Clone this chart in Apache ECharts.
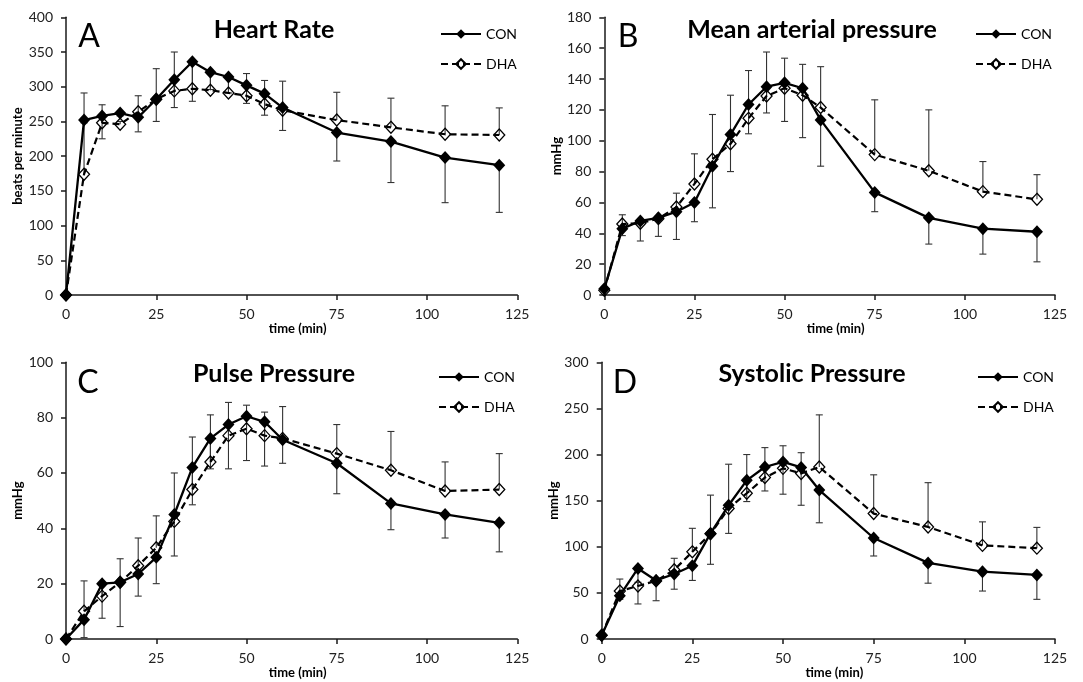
<!DOCTYPE html>
<html>
<head>
<meta charset="utf-8">
<script src="https://cdn.jsdelivr.net/npm/echarts@6/dist/echarts.min.js"></script>
<style>
html,body{margin:0;padding:0;background:#fff;}
#chart{width:1083px;height:682px;}
</style>
</head>
<body>
<div id="chart"></div>
<script>
// ---- data ----
const times = [0, 5, 10, 15, 20, 25, 30, 35, 40, 45, 50, 55, 60, 75, 90, 105, 120];
const xTicks = [0, 25, 50, 75, 100, 125];

// A: Heart Rate (beats per minute)
const hrCon    = [0, 252, 258, 262, 256, 282, 310, 336, 321, 314, 302, 290, 270, 234, 221, 198, 187];
const hrConErr = [0, 4, 33, 4, 21, 32, 40, 57, 25, 23, 26, 31, 33, 41, 59, 65, 68];
const hrDha    = [0, 174, 248, 246, 264, 282, 294, 297, 295, 291, 287, 275, 266, 252, 241.5, 231.5, 230.5];
const hrDhaErr = [0, 117, 26, 4, 23, 44, 56, 40, 26, 23, 32, 34, 42, 40, 42, 41, 39];

// B: Mean arterial pressure (mmHg)
const mapCon    = [4, 43, 48, 50, 54, 60, 83.5, 104, 123.5, 135, 137.5, 134, 113.5, 66.5, 50, 43, 41];
const mapConErr = [0, 4.5, 13, 12, 18, 12.5, 27, 24, 19, 17, 25, 32, 30, 12.5, 17, 16.5, 19.5];
const mapDha    = [3, 46, 46.5, 49.5, 57, 72, 88, 98, 114.5, 129, 134, 129.5, 121.5, 91, 80.5, 67, 62];
const mapDhaErr = [0, 6, 2, 2, 9, 19.5, 29, 31.5, 31, 28.5, 19.5, 20, 26.5, 35.5, 39.5, 19.5, 16];

// C: Pulse Pressure (mmHg)
const ppCon    = [0, 7, 20, 20.5, 23.5, 29.5, 45, 62, 72.5, 77.5, 80.5, 78.5, 72, 63.5, 49, 45, 42];
const ppConErr = [0, 6.5, 12.5, 16, 8, 9.5, 15, 13.5, 11, 16, 16, 16, 8.5, 11, 9.5, 8.5, 10.5];
const ppDha    = [0, 10, 15.5, 20.5, 26.5, 33, 42.5, 54, 64, 73.5, 76, 73.5, 72.5, 67, 61, 53.5, 54];
const ppDhaErr = [0, 11, 4, 8.5, 10, 11.5, 17.5, 19, 17, 12, 8.5, 8.5, 11.5, 10.5, 14, 10.5, 13];

// D: Systolic Pressure (mmHg)
const spCon    = [4, 47, 76.5, 63.5, 70.5, 79.5, 114.5, 145, 172, 186.5, 192, 186, 161.5, 109.5, 82.5, 73, 69.5];
const spConErr = [0, 4, 38.5, 22, 16.5, 16, 33.5, 30.5, 23, 26, 35, 41, 35.5, 19.5, 22, 21, 26.5];
const spDha    = [4, 52, 57.5, 63, 75, 94.5, 114, 141.5, 158, 175, 185, 179.5, 186.5, 136, 121.5, 101.5, 98.5];
const spDhaErr = [0, 13, 4, 3, 12.5, 25.5, 42, 48, 42, 32.5, 24.5, 22.5, 56.5, 42, 48, 25.5, 22.5];

const panels = [
  {letter: 'A', title: 'Heart Rate', yName: 'beats per minute', yMax: 400, yInt: 50,
   con: hrCon, conErr: hrConErr, dha: hrDha, dhaErr: hrDhaErr},
  {letter: 'B', title: 'Mean arterial pressure', yName: 'mmHg', yMax: 180, yInt: 20,
   con: mapCon, conErr: mapConErr, dha: mapDha, dhaErr: mapDhaErr},
  {letter: 'C', title: 'Pulse Pressure', yName: 'mmHg', yMax: 100, yInt: 20,
   con: ppCon, conErr: ppConErr, dha: ppDha, dhaErr: ppDhaErr},
  {letter: 'D', title: 'Systolic Pressure', yName: 'mmHg', yMax: 300, yInt: 50,
   con: spCon, conErr: spConErr, dha: spDha, dhaErr: spDhaErr}
];

// ---- layout ----
const layout = [
  {grid: {left: 66, top: 17.3, width: 451.3, height: 277.7}, yGap: 37, letter: [89, 37], title: [274, 30], legend: [435, 22]},
  {grid: {left: 604.3, top: 17.3, width: 450.7, height: 277.7}, yGap: 39, letter: [628, 37], title: [812, 30], legend: [970, 22]},
  {grid: {left: 66, top: 362.3, width: 451.3, height: 276.7}, yGap: 36, letter: [88, 383], title: [274, 374], legend: [433, 365]},
  {grid: {left: 601.7, top: 362.3, width: 453.3, height: 276.7}, yGap: 36, letter: [625, 383], title: [812, 374], legend: [972, 365]}
];

const FONT = 'Lato';
const AXIS_COLOR = '#1a1a1a';

function errRender(dir) {
  return function (params, api) {
    const t = api.value(0), v = api.value(1), e = api.value(2);
    if (!e) return null;
    const p0 = api.coord([t, v]);
    const p1 = api.coord([t, v + dir * e]);
    const st = {stroke: '#333', lineWidth: 1.1};
    return {
      type: 'group',
      children: [
        {type: 'line', shape: {x1: p0[0], y1: p0[1], x2: p1[0], y2: p1[1]}, style: st},
        {type: 'line', shape: {x1: p1[0] - 3.5, y1: p1[1], x2: p1[0] + 3.5, y2: p1[1]}, style: st}
      ]
    };
  };
}

const grids = [], xAxes = [], yAxes = [], series = [], legends = [], graphics = [];

panels.forEach((p, i) => {
  const L = layout[i];
  grids.push(Object.assign({containLabel: false}, L.grid));
  xAxes.push({
    type: 'value', gridIndex: i, min: xTicks[0], max: xTicks[xTicks.length - 1], interval: 25,
    name: 'time (min)', nameLocation: 'middle', nameGap: 25,
    nameTextStyle: {fontFamily: FONT, fontWeight: 'bold', fontSize: 13, color: '#000', padding: [0, 0, 0, 12]},
    axisLine: {show: true, onZero: false, lineStyle: {color: AXIS_COLOR, width: 1.5}},
    axisTick: {show: true, inside: false, length: 5, lineStyle: {color: AXIS_COLOR, width: 1.5}},
    axisLabel: {fontFamily: FONT, fontSize: 14, color: '#222', margin: 12},
    splitLine: {show: false}
  });
  yAxes.push({
    type: 'value', gridIndex: i, min: 0, max: p.yMax, interval: p.yInt,
    name: p.yName, nameLocation: 'middle', nameGap: L.yGap, nameRotate: 90,
    nameTextStyle: {fontFamily: FONT, fontWeight: 'bold', fontSize: 13, color: '#000'},
    axisLine: {show: true, onZero: false, lineStyle: {color: AXIS_COLOR, width: 1.5}},
    axisTick: {show: true, inside: false, length: 5, lineStyle: {color: AXIS_COLOR, width: 1.5}},
    axisLabel: {fontFamily: FONT, fontSize: 14, color: '#222', margin: 13},
    splitLine: {show: false}
  });

  series.push({
    type: 'custom', name: 'dhaErr' + i, xAxisIndex: i, yAxisIndex: i, z: 1,
    renderItem: errRender(1), encode: {x: 0, y: 1},
    data: times.map((t, k) => [t, p.dha[k], p.dhaErr[k]])
  });
  series.push({
    type: 'custom', name: 'conErr' + i, xAxisIndex: i, yAxisIndex: i, z: 1,
    renderItem: errRender(-1), encode: {x: 0, y: 1},
    data: times.map((t, k) => [t, p.con[k], p.conErr[k]])
  });
  series.push({
    type: 'line', name: 'DHA', xAxisIndex: i, yAxisIndex: i, z: 3,
    data: times.map((t, k) => [t, p.dha[k]]),
    symbol: 'diamond', symbolSize: [11, 12], showSymbol: true,
    lineStyle: {color: '#000', width: 2.2, type: [7, 4]},
    itemStyle: {color: 'rgba(255,255,255,0)', borderColor: '#000', borderWidth: 1.3},
    animation: false
  });
  series.push({
    type: 'line', name: 'CON', xAxisIndex: i, yAxisIndex: i, z: 4,
    data: times.map((t, k) => [t, p.con[k]]),
    symbol: 'diamond', symbolSize: [12, 13], showSymbol: true,
    lineStyle: {color: '#000', width: 2.3},
    itemStyle: {color: '#000'},
    animation: false
  });

  legends.push({
    data: ['CON', 'DHA'], orient: 'vertical', left: L.legend[0], top: L.legend[1],
    itemWidth: 40, itemHeight: 12, itemGap: 16, selectedMode: false,
    textStyle: {fontFamily: FONT, fontSize: 14, color: '#000'}
  });

  graphics.push({
    type: 'text', x: L.title[0], y: L.title[1], z: 10,
    style: {text: p.title, font: 'bold 25px Lato', fill: '#000', align: 'center', verticalAlign: 'middle'}
  });
  graphics.push({
    type: 'text', x: L.letter[0], y: L.letter[1], z: 10,
    style: {text: p.letter, font: '32px Lato', fill: '#000', align: 'center', verticalAlign: 'middle'}
  });
});

const chart = echarts.init(document.getElementById('chart'), null, {renderer: 'canvas'});
chart.setOption({
  animation: false,
  backgroundColor: '#fff',
  grid: grids,
  xAxis: xAxes,
  yAxis: yAxes,
  legend: legends,
  series: series,
  graphic: graphics
});
</script>
</body>
</html>
